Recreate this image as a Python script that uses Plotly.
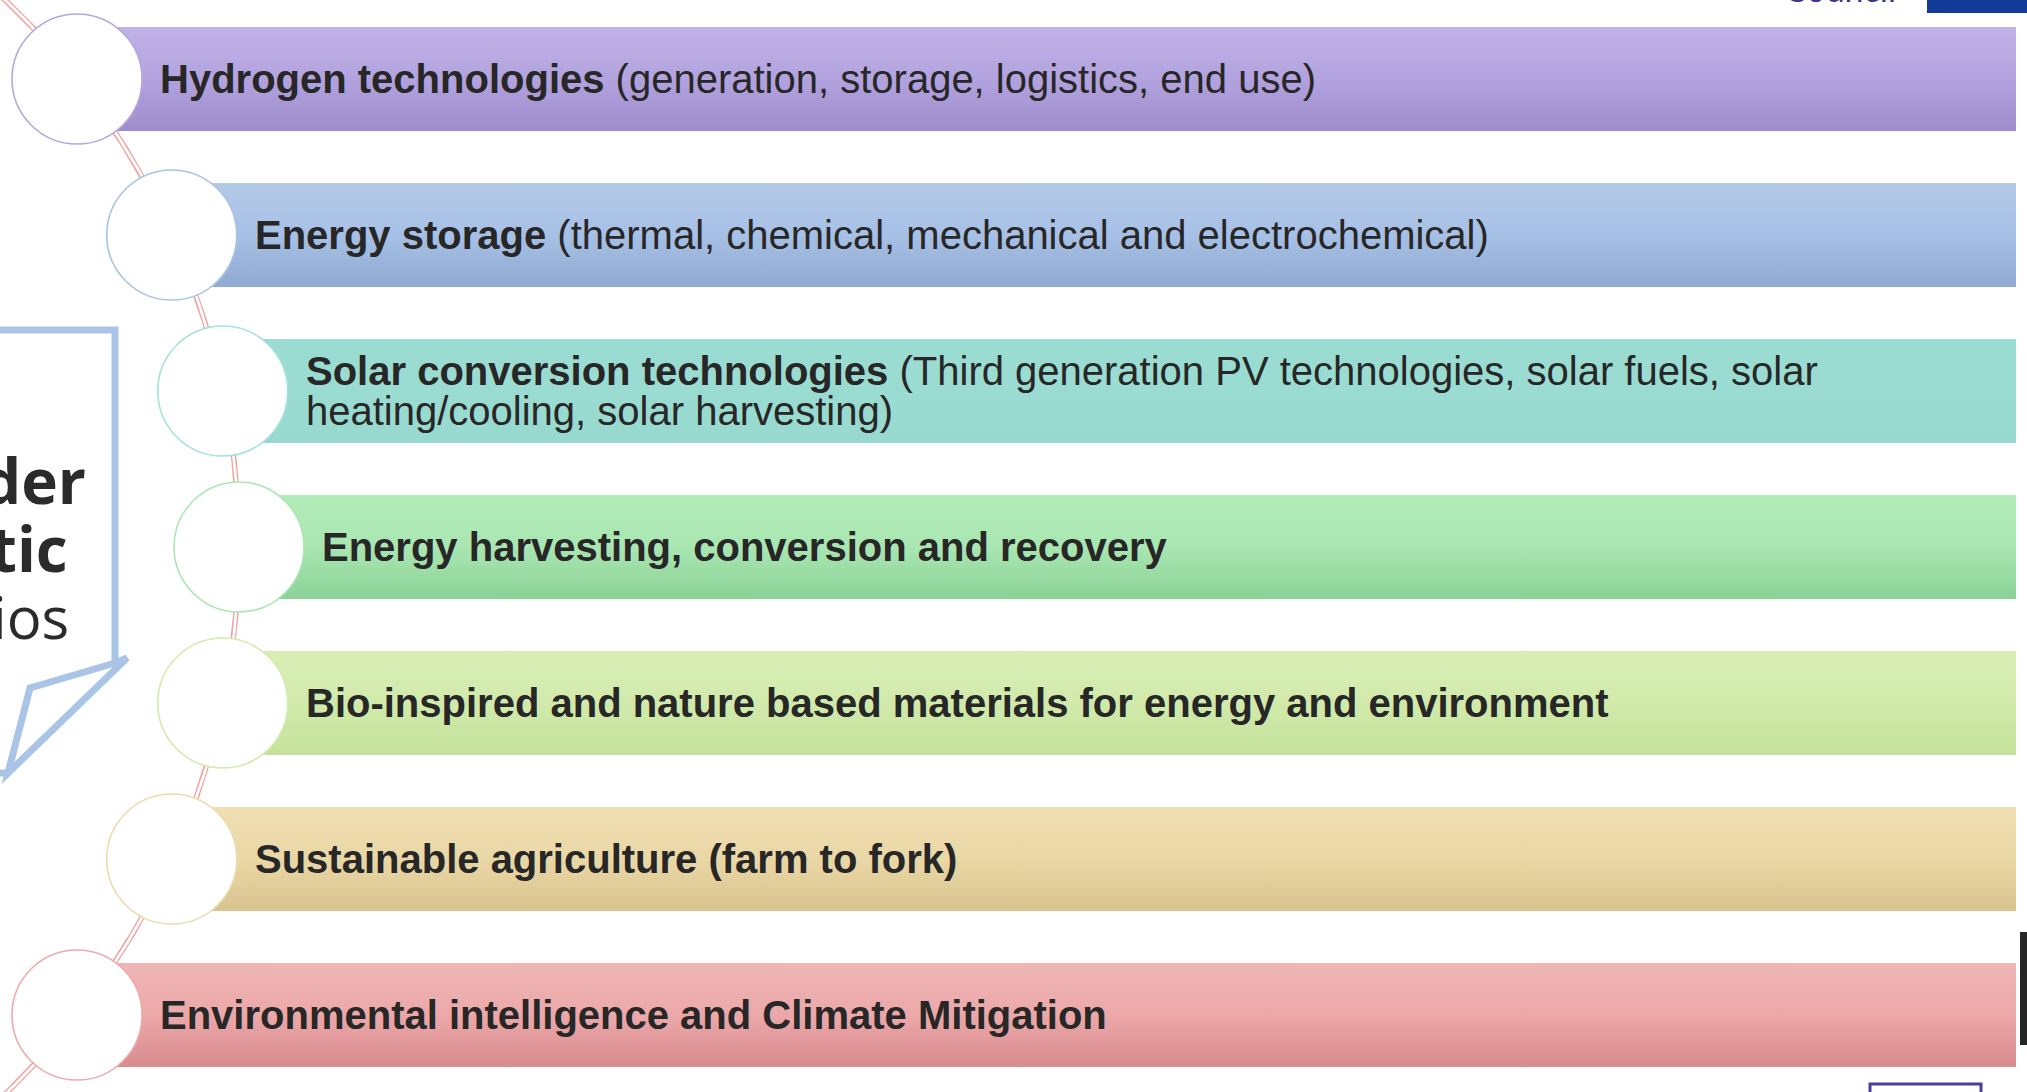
import math
import plotly.graph_objects as go

# ---------------- data ----------------
titles = [
    "Hydrogen technologies",
    "Energy storage",
    "Solar conversion technologies",
    "Energy harvesting, conversion and recovery",
    "Bio-inspired and nature based materials for energy and environment",
    "Sustainable agriculture (farm to fork)",
    "Environmental intelligence and Climate Mitigation",
]
details = [
    "(generation, storage, logistics, end use)",
    "(thermal, chemical, mechanical and electrochemical)",
    "(Third generation PV technologies, solar fuels, solar\nheating/cooling, solar harvesting)",
    "",
    "",
    "",
    "",
]
top_colors = ["#c0b3e6", "#b5cae8", "#9adcd2", "#b3ecba", "#d9eeb6", "#f0dfb3", "#efb6b6"]
mid_colors = ["#b2a3df", "#a7c0e6", "#9adcd2", "#a9e6b1", "#d1eaab", "#ead7a6", "#eca8a9"]
bottom_colors = ["#9f8bcb", "#8fa9d0", "#97d9cf", "#8bd297", "#c4e29b", "#d9c48e", "#d98b8f"]
ring_colors = ["#b6a6e0", "#a9c3e7", "#a3e3d9", "#a9e6b0", "#d4ebab", "#ecdcae", "#efabab"]

callout_lines = ["der", "tic", "ios"]
callout_bold = [True, True, False]

# ---------------- geometry ----------------
W, H = 2027, 1092
ARC_CX, ARC_CY, ARC_R = -518, 547, 757
ROW0, ROW_STEP, BAR_HALF, CIRCLE_R = 79, 156, 52, 65
BAR_RIGHT = 2016
TEXT_COLOR = "#272727"
FONT = "Liberation Sans, Arial, sans-serif"


def arc_x(y, r=ARC_R):
    return ARC_CX + math.sqrt(max(r * r - (y - ARC_CY) ** 2, 0))


fig = go.Figure()

# connecting double arc
for r, w, col in [(ARC_R, 5.5, "#f0a4a4"), (ARC_R, 2.6, "white")]:
    ys = [y for y in range(-5, H + 6, 3)]
    fig.add_trace(go.Scatter(x=[arc_x(y, r) for y in ys], y=ys, mode="lines",
                             line=dict(color=col, width=w), hoverinfo="skip", showlegend=False))

shapes = []
annotations = []

for i, title in enumerate(titles):
    cy = ROW0 + ROW_STEP * i
    cx = arc_x(cy)
    top, bot = cy - BAR_HALF, cy + BAR_HALF
    fig.add_trace(go.Scatter(
        x=[cx, BAR_RIGHT, BAR_RIGHT, cx, cx], y=[top, top, bot, bot, top],
        mode="lines", line=dict(width=0), fill="toself",
        fillgradient=dict(type="vertical", start=top, stop=bot,
                          colorscale=[[0, top_colors[i]], [0.5, mid_colors[i]], [1, bottom_colors[i]]]),
        hoverinfo="skip", showlegend=False))
    shapes.append(dict(type="circle", xref="x", yref="y", layer="above",
                       x0=cx - CIRCLE_R, x1=cx + CIRCLE_R, y0=cy - CIRCLE_R, y1=cy + CIRCLE_R,
                       fillcolor="white", line=dict(color=ring_colors[i], width=1.6)))
    lines = details[i].split("\n") if details[i] else [""]
    n = len(lines)
    for k, ln in enumerate(lines):
        txt = (f"<b>{title}</b> " if k == 0 else "") + ln
        ty = cy + (k - (n - 1) / 2) * 40
        annotations.append(dict(x=cx + 81, y=ty, xref="x", yref="y", text=txt, showarrow=False,
                                xanchor="left", yanchor="middle", align="left",
                                font=dict(family=FONT, size=40, color=TEXT_COLOR)))

# callout box on the left
box_col = "#a9c4e7"
shapes.append(dict(type="path", xref="x", yref="y", layer="above",
                   path="M -20,330 L 115,330 L 115,663 L 30,688 L 8,773 L 127,658 L 113,664",
                   line=dict(color=box_col, width=7)))
shapes.append(dict(type="path", xref="x", yref="y", layer="above",
                   path="M -20,773 L 10,773", line=dict(color=box_col, width=7)))
callout_x = [88, 70, 71]
callout_y = [480, 548, 616]
callout_size = [62, 62, 58]
for t, b, x, y, s in zip(callout_lines, callout_bold, callout_x, callout_y, callout_size):
    annotations.append(dict(x=x, y=y, xref="x", yref="y", text=f"<b>{t}</b>" if b else t,
                            showarrow=False, xanchor="right", yanchor="middle",
                            font=dict(family="Open Sans, Noto Sans, sans-serif", size=s, color="#2b2b2b")))

# partial header / footer elements
annotations.append(dict(x=1782 / W, y=1 + 12 / H, xref="paper", yref="paper", text="Council",
                        showarrow=False, xanchor="left", yanchor="middle",
                        font=dict(family="Lato, sans-serif", size=34, color="#3b3590")))
shapes.append(dict(type="rect", xref="x", yref="y", x0=1927, x1=2030, y0=-5, y1=13,
                   fillcolor="#123a98", line=dict(width=0), layer="above"))
shapes.append(dict(type="rect", xref="x", yref="y", x0=2020, x1=2030, y0=932, y1=1045,
                   fillcolor="#262626", line=dict(width=0), layer="above"))
shapes.append(dict(type="rect", xref="x", yref="y", x0=1870, x1=1981, y0=1084, y1=1100,
                   fillcolor="rgba(0,0,0,0)", line=dict(color="#4d3d9c", width=3), layer="above"))

fig.update_layout(
    width=W, height=H, margin=dict(l=0, r=0, t=0, b=0),
    paper_bgcolor="white", plot_bgcolor="white",
    xaxis=dict(range=[0, W], visible=False, fixedrange=True),
    yaxis=dict(range=[H, 0], visible=False, fixedrange=True),
    shapes=shapes, annotations=annotations, showlegend=False,
)

fig.write_html("out.html", config={"displayModeBar": False},
               post_script="document.body.style.margin='0';document.body.style.overflow='hidden';")
